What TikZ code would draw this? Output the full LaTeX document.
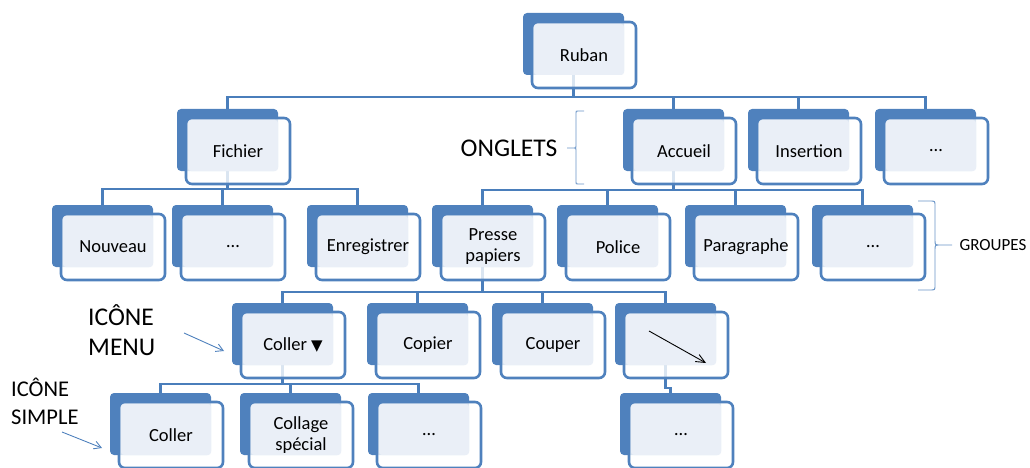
\documentclass[tikz,border=0pt]{standalone}
\usepackage{fontspec}
\setmainfont{Carlito}
\newfontfamily\symbfont{DejaVu Sans}
\usetikzlibrary{arrows.meta,backgrounds}
\definecolor{bleu}{HTML}{4F81BD}
\definecolor{bleulien}{HTML}{4A7EBB}
\definecolor{pale}{HTML}{EAEFF7}
\begin{document}
\begin{tikzpicture}[x=1pt,y=-1pt,
  dos/.style={fill=bleu,rounded corners=4pt,minimum width=101pt,minimum height=62pt,inner sep=0pt,outer sep=0pt,anchor=north west},
  face/.style={draw=bleu,line width=2.6pt,fill=white,fill opacity=.8,rounded corners=6pt},
  clair/.style={fill=pale,rounded corners=3pt},
  etiq/.style={font=\fontsize{18.5}{21}\selectfont,align=center,inner sep=0pt},
  lien/.style={draw=bleulien,line width=2.8pt},
  accolade/.style={draw=bleu!85,line width=.9pt},
  renvoi/.style={draw=bleu,line width=.9pt,-{Straight Barb[length=7pt,width=8pt]}},
  boite/.pic={
    \node[dos] (-fond) at (0,0) {};
    \draw[face] (9,9) rectangle (113,75);
    \fill[clair] (11,11) rectangle (101,62);
    \node[etiq] (-texte) at (61,42) {#1};
  }]
\useasboundingbox (0,0) rectangle (1030,468);

% level 1 and 2
\pic (ruban) at (523,13) {boite=Ruban};
\pic (fichier) at (177,109) {boite=Fichier};
\pic (accueil) at (623,109) {boite=Accueil};
\pic (insertion) at (748,109) {boite=Insertion};
\pic (autreong) at (875,109) {boite=…};

% groupes
\pic (nouveau) at (52,205) {boite=Nouveau};
\pic (autrefic) at (172,205) {boite=…};
\pic (enreg) at (307,205) {boite=Enregistrer};
\pic (presse) at (432,205) {boite={Presse\\papiers}};
\pic (police) at (557,205) {boite=Police};
\pic (parag) at (685,205) {boite=Paragraphe};
\pic (autregrp) at (812,205) {boite=…};

% icones
\pic (collerm) at (232,303) {boite={Coller {\symbfont\fontsize{15}{15}\selectfont ▼}}};
\pic (copier) at (367,303) {boite=Copier};
\pic (couper) at (492,303) {boite=Couper};
\pic (fleche) at (615,303) {boite={}};
\draw[black,line width=.9pt,-{Straight Barb[length=9pt,width=8pt]}] ([shift={(34,28)}]fleche-fond.north west) -- ++(57,32);
\pic (coller) at (110,393) {boite=Coller};
\pic (collage) at (240,393) {boite={Collage\\spécial}};
\pic (autrecol) at (368,393) {boite=…};
\pic (autrefl) at (620,393) {boite=…};

% bus lines
\coordinate (b1) at (0,97);
\coordinate (b2) at (0,189);
\coordinate (b3) at (0,190);
\coordinate (b4) at (0,292);
\coordinate (b5) at (0,384);
\coordinate (b6) at (0,388);
\begin{scope}[on background layer]
\draw[lien] (ruban-fond) -- (ruban-fond |- b1) -| (fichier-fond);
\draw[lien] (ruban-fond) -- (ruban-fond |- b1) -| (accueil-fond);
\draw[lien] (ruban-fond) -- (ruban-fond |- b1) -| (insertion-fond);
\draw[lien] (ruban-fond) -- (ruban-fond |- b1) -| (autreong-fond);
\draw[lien] (fichier-fond) -- (fichier-fond |- b2) -| (nouveau-fond);
\draw[lien] (fichier-fond) -- (fichier-fond |- b2) -| (autrefic-fond);
\draw[lien] (fichier-fond) -- (fichier-fond |- b2) -| (enreg-fond);
\draw[lien] (accueil-fond) -- (accueil-fond |- b3) -| (presse-fond);
\draw[lien] (accueil-fond) -- (accueil-fond |- b3) -| (police-fond);
\draw[lien] (accueil-fond) -- (accueil-fond |- b3) -| (parag-fond);
\draw[lien] (accueil-fond) -- (accueil-fond |- b3) -| (autregrp-fond);
\draw[lien] (presse-fond) -- (presse-fond |- b4) -| (collerm-fond);
\draw[lien] (presse-fond) -- (presse-fond |- b4) -| (copier-fond);
\draw[lien] (presse-fond) -- (presse-fond |- b4) -| (couper-fond);
\draw[lien] (presse-fond) -- (presse-fond |- b4) -| (fleche-fond);
\draw[lien] (collerm-fond) -- (collerm-fond |- b5) -| (coller-fond);
\draw[lien] (collerm-fond) -- (collerm-fond |- b5) -| (collage-fond);
\draw[lien] (collerm-fond) -- (collerm-fond |- b5) -| (autrecol-fond);
\draw[lien] (fleche-fond) -- (fleche-fond |- b6) -| (autrefl-fond);
\end{scope}

% annotations
\node[font=\fontsize{25.5}{30}\selectfont] (onglets) at (509,148) {ONGLETS};
\draw[accolade] (584,111) -- (578,111) .. controls (576,111) .. (576,113) -- (576,146)
  .. controls (576,148) .. (574,148) -- (567,148) -- (574,148)
  .. controls (576,148) .. (576,150) -- (576,182) .. controls (576,184) .. (578,184) -- (584,184);
\node[font=\fontsize{17}{20}\selectfont] (groupes) at (993,245) {GROUPES};
\draw[accolade] (918,201) -- (930,201) .. controls (935,201) .. (935,206) -- (935,240)
  .. controls (935,245) .. (940,245) -- (952,245) -- (940,245)
  .. controls (935,245) .. (935,250) -- (935,285) .. controls (935,290) .. (930,290) -- (918,290);
\node[font=\fontsize{25.5}{30}\selectfont,align=left,anchor=west,inner sep=0pt] (menu) at (88,330) {ICÔNE\\MENU};
\coordinate (m1) at (184,333);
\coordinate (m2) at (224,351);
\draw[renvoi] (m1) -- (m2);
\node[font=\fontsize{22.5}{28}\selectfont,align=left,anchor=west,inner sep=0pt] (simple) at (11,401) {ICÔNE\\SIMPLE};
\coordinate (s1) at (62,432);
\coordinate (s2) at (102,448);
\draw[renvoi] (s1) -- (s2);
\end{tikzpicture}
\end{document}
